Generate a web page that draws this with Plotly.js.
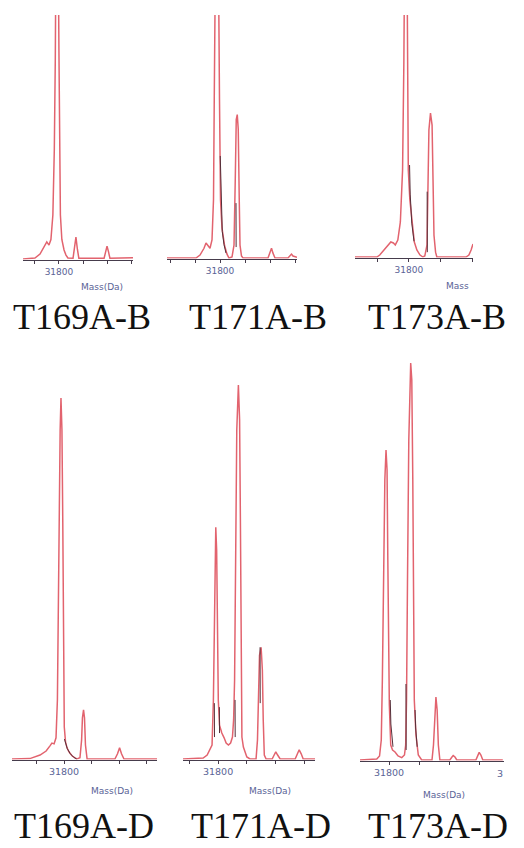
<!DOCTYPE html>
<html>
<head>
<meta charset="utf-8">
<script src="https://cdn.plot.ly/plotly-3.0.1.min.js"></script>
<style>
  html, body { margin: 0; padding: 0; background: #ffffff; }
  #chart { width: 524px; height: 848px; }
</style>
</head>
<body>
<div id="chart"></div>
<script>
// Deconvoluted mass spectra (mass in Da, relative intensity in %)

// T169A-B
const massT169B = [31652, 31701, 31722, 31738, 31750, 31759, 31767, 31775, 31781, 31785, 31792, 31800, 31803, 31806, 31812, 31821, 31829, 31837, 31858, 31864, 31870, 31876, 31882, 31986, 31992, 31998, 32004, 32010, 32105];
const intT169B  = [0, 0.4, 2, 5, 7, 5.7, 8, 18, 45, 82, 200, 85, 45, 18, 8, 3.7, 1.6, 0.4, 0.3, 4, 9, 4, 0.3, 0.3, 3, 5.3, 3, 0.3, 0.5];

// T171A-B
const massT171B = [31588, 31704, 31720, 31736, 31744, 31752, 31760, 31768, 31774, 31777, 31788, 31798, 31802, 31808, 31818, 31828, 31836, 31848, 31856, 31861, 31865, 31869, 31873, 31877, 31880, 31886, 31892, 31992, 32000, 32006, 32012, 32020, 32072, 32080, 32086, 32092, 32108];
const intT171B  = [0, 0, 1.2, 4, 6.2, 5, 4, 7.4, 24, 65, 200, 65, 24, 12.3, 5.3, 1.6, 0, 0.4, 5.3, 32, 57, 59, 53, 24, 5.3, 0.8, 0, 0, 2, 4, 2, 0, 0, 1.2, 1.6, 0.8, 0.3];

// T173A-B
const massT173B = [31630, 31699, 31708, 31721, 31734, 31743, 31751, 31757, 31765, 31773, 31780, 31784, 31790.5, 31796, 31798, 31803, 31810, 31817, 31825, 31835, 31844, 31850, 31857, 31860, 31863, 31868, 31873, 31876, 31879, 31884, 31888, 31980, 31989, 31996, 32002];
const intT173B  = [0, 0, 0.8, 2.9, 5, 6.2, 5.8, 5, 7, 14.5, 36, 80, 200, 90, 36, 23.5, 13.2, 6.2, 2.9, 0.8, 0, 0.4, 5, 27.7, 52.5, 59.5, 54.5, 31.8, 9, 2, 0, 0, 0.8, 2.9, 5.4];

// T169A-D
const massT169D = [31611, 31676, 31713, 31735, 31749, 31756, 31764, 31771, 31776, 31779, 31783, 31786, 31789, 31792.5, 31795.5, 31798.5, 31801, 31805.5, 31811, 31818, 31829, 31840, 31847, 31858, 31864, 31867, 31871, 31874.5, 31878, 31884, 31985, 31994.5, 32002, 32009, 32018, 32138];
const intT169D  = [0, 0.1, 1, 2, 3.3, 4, 3.8, 5.3, 14.8, 40, 65, 82.5, 90.5, 82.5, 60, 30, 8, 4.3, 2.8, 1.8, 0.8, 0.3, 0, 0.3, 4.8, 10.3, 12.3, 10.3, 3.5, 0, 0, 1.3, 2.8, 1.3, 0, 0];

// T171A-D
const massT171D = [31678, 31748, 31762, 31772, 31779, 31783.7, 31787, 31789.6, 31792, 31795, 31798, 31800.7, 31805, 31813, 31821, 31828, 31836, 31843.5, 31850, 31854, 31857.4, 31861, 31865, 31870.6, 31874.8, 31877.6, 31880, 31882.8, 31888, 31900, 31911, 31932, 31937, 31941, 31944, 31949.6, 31954, 31957, 31960.7, 31967, 31988, 31995, 32000.7, 32007, 32016, 32068, 32075, 32082, 32089, 32096, 32137];
const intT171D  = [0, 0.25, 1, 2.5, 3.5, 14.8, 39.8, 53.6, 58.1, 52.4, 32.3, 14.8, 8.5, 6.5, 5.3, 4, 3.5, 4, 5.5, 9.8, 19.8, 49.9, 82.5, 93.7, 85, 59.9, 27.3, 5.5, 3, 0.5, 0, 0, 4.8, 17.3, 26, 28, 22.3, 9.8, 1, 0, 0, 1, 1.8, 1, 0, 0, 1.3, 2.3, 1.3, 0, 0];

// T173A-D
const massT173D = [31704, 31759.4, 31768.6, 31774.3, 31777.9, 31781.8, 31786.1, 31790, 31793.4, 31796, 31798.4, 31801, 31805.6, 31811.6, 31819.8, 31829.7, 31842, 31851, 31855, 31857.8, 31861, 31865.3, 31871.6, 31875.2, 31878.5, 31880.9, 31883.5, 31889, 31896.7, 31908, 31942, 31946.9, 31951, 31955, 31959, 31963, 31968, 32001, 32008, 32012, 32018, 32024, 32087, 32094, 32098, 32103.6, 32110, 32176];
const intT173D  = [0, 0.25, 1, 5, 20, 45, 70, 77.5, 72.5, 50, 25, 13.75, 3.75, 2.5, 2, 1, 0.6, 1.25, 3.75, 15, 45, 80, 99.25, 95, 70, 40, 15, 6.25, 1.25, 0, 0, 3.75, 12.5, 15.75, 12.5, 3.75, 0, 0, 0.75, 1.1, 0.75, 0, 0, 1.25, 1.9, 1.25, 0, 0];

// Raw-profile segments that show through on the peak flanks (null breaks the line)
const rawMassT171B = [31801, 31804, 31809, 31816, 31824, null, 31864, 31864.5];
const rawIntT171B  = [42, 24, 11, 5.5, 2, null, 22.6, 4.5];
const rawMassT173B = [31802, 31804, 31809, 31816, null, 31857.5, 31858];
const rawIntT173B  = [38, 26, 14, 6.5, null, 27, 2];
const rawMassT169D = [31801.5, 31806, 31812, 31822, 31834, 31846];
const rawIntT169D  = [5, 4, 2.6, 1.4, 0.5, 0];
const rawMassT171D = [31787, 31787.5, null, 31804.5, 31805, null, 31859, 31859.5, null, 31946, 31946.5];
const rawIntT171D  = [14, 5.5, null, 13, 6.5, null, 14.8, 5.5, null, 28, 14];
const rawMassT173D = [31804, 31806, 31813, null, 31856, 31856.5, null, 31886, 31888, 31893];
const rawIntT173D  = [15, 9, 3.3, null, 19, 2.5, null, 12.5, 8, 3.3];

// Sample names and axis labels
const sampleNames = ['T169A-B', 'T171A-B', 'T173A-B', 'T169A-D', 'T171A-D', 'T173A-D'];
const axisTitles  = ['Mass(Da)', '', 'Mass', 'Mass(Da)', 'Mass(Da)', 'Mass(Da)'];
const labeledTicks = [31800];
const tickStep = 100;

const W = 524, H = 848;
const fx = v => v / W;
const fy = v => 1 - v / H;

// panel geometry in pixels: x extent of the mass axis, baseline, top of plot area
const panels = [
  { mass: massT169B, inten: intT169B, rawM: [], rawI: [], x: [23, 133],  base: 259, top: 15,  range: [31652, 32105], title: [102, 287], name: [82, 317] },
  { mass: massT171B, inten: intT171B, rawM: rawMassT171B, rawI: rawIntT171B, x: [167, 297], base: 258, top: 15,  range: [31588, 32108], title: null, name: [258, 317] },
  { mass: massT173B, inten: intT173B, rawM: rawMassT173B, rawI: rawIntT173B, x: [355, 473], base: 257, top: 15,  range: [31630, 32002], title: [457, 286], name: [437, 317] },
  { mass: massT169D, inten: intT169D, rawM: rawMassT169D, rawI: rawIntT169D, x: [12, 157],  base: 759, top: 360, range: [31611, 32138], title: [112, 791], name: [84, 826] },
  { mass: massT171D, inten: intT171D, rawM: rawMassT171D, rawI: rawIntT171D, x: [183, 315], base: 759, top: 360, range: [31678, 32137], title: [270, 791], name: [261, 826] },
  { mass: massT173D, inten: intT173D, rawM: rawMassT173D, rawI: rawIntT173D, x: [360, 504], base: 760, top: 360, range: [31704, 32180], title: [444, 795], name: [438, 826] }
];

const red = '#e2636e';
const rawCol = '#55303a';
const axisCol = '#463c4c';
const tickFontCol = '#5a6396';

const data = [];
const layout = {
  width: W, height: H,
  margin: { l: 0, r: 0, t: 0, b: 0 },
  paper_bgcolor: '#ffffff',
  plot_bgcolor: 'rgba(0,0,0,0)',
  showlegend: false,
  annotations: []
};

panels.forEach((p, i) => {
  const n = i + 1;
  const xa = n === 1 ? 'xaxis' : 'xaxis' + n;
  const ya = n === 1 ? 'yaxis' : 'yaxis' + n;
  const xr = n === 1 ? 'x' : 'x' + n;
  const yr = n === 1 ? 'y' : 'y' + n;

  data.push({
    type: 'scatter', mode: 'lines',
    x: p.mass, y: p.inten,
    xaxis: xr, yaxis: yr,
    line: { color: red, width: 1.5, shape: 'linear' },
    hoverinfo: 'skip'
  });
  if (p.rawM.length) {
    data.push({
      type: 'scatter', mode: 'lines',
      x: p.rawM, y: p.rawI,
      xaxis: xr, yaxis: yr,
      connectgaps: false,
      line: { color: rawCol, width: 1, shape: 'linear' },
      hoverinfo: 'skip'
    });
  }

  const tv = [];
  for (let t = Math.ceil(p.range[0] / tickStep) * tickStep; t <= p.range[1]; t += tickStep) tv.push(t);
  const tt = tv.map(t => labeledTicks.includes(t) ? String(t) : '');

  const perUnit = (p.base - p.top) / 100;
  layout[xa] = {
    domain: [fx(p.x[0]), fx(p.x[1])],
    range: p.range,
    anchor: yr,
    showgrid: false, zeroline: false,
    showline: true, linecolor: axisCol, linewidth: 1.2,
    ticks: 'outside', ticklen: 3, tickwidth: 1, tickcolor: axisCol,
    tickmode: 'array', tickvals: tv, ticktext: tt,
    tickfont: { family: 'DejaVu Sans', size: i < 3 ? 9 : 9.5, color: tickFontCol },
    fixedrange: true
  };
  layout[ya] = {
    domain: [fy(p.base + 0.6), fy(p.top)],
    range: [-0.6 / perUnit, 100],
    anchor: xr,
    visible: false,
    fixedrange: true
  };

  if (p.title && axisTitles[i]) {
    layout.annotations.push({
      xref: 'paper', yref: 'paper',
      x: fx(p.title[0]), y: fy(p.title[1]),
      xanchor: 'center', yanchor: 'middle',
      text: axisTitles[i], showarrow: false,
      font: { family: 'DejaVu Sans', size: 9, color: tickFontCol }
    });
  }
  layout.annotations.push({
    xref: 'paper', yref: 'paper',
    x: fx(p.name[0]), y: fy(p.name[1]),
    xanchor: 'center', yanchor: 'middle',
    text: sampleNames[i], showarrow: false,
    font: { family: 'Liberation Serif', size: 36, color: '#111111' }
  });
});

// truncated tick label at the right end of the last mass axis
layout.annotations.push({
  xref: 'x6', yref: 'paper',
  x: 32166, y: fy(773),
  xanchor: 'center', yanchor: 'middle',
  text: '3', showarrow: false,
  font: { family: 'DejaVu Sans', size: 9.5, color: tickFontCol }
});

Plotly.newPlot('chart', data, layout, { displayModeBar: false, staticPlot: true });
</script>
</body>
</html>
